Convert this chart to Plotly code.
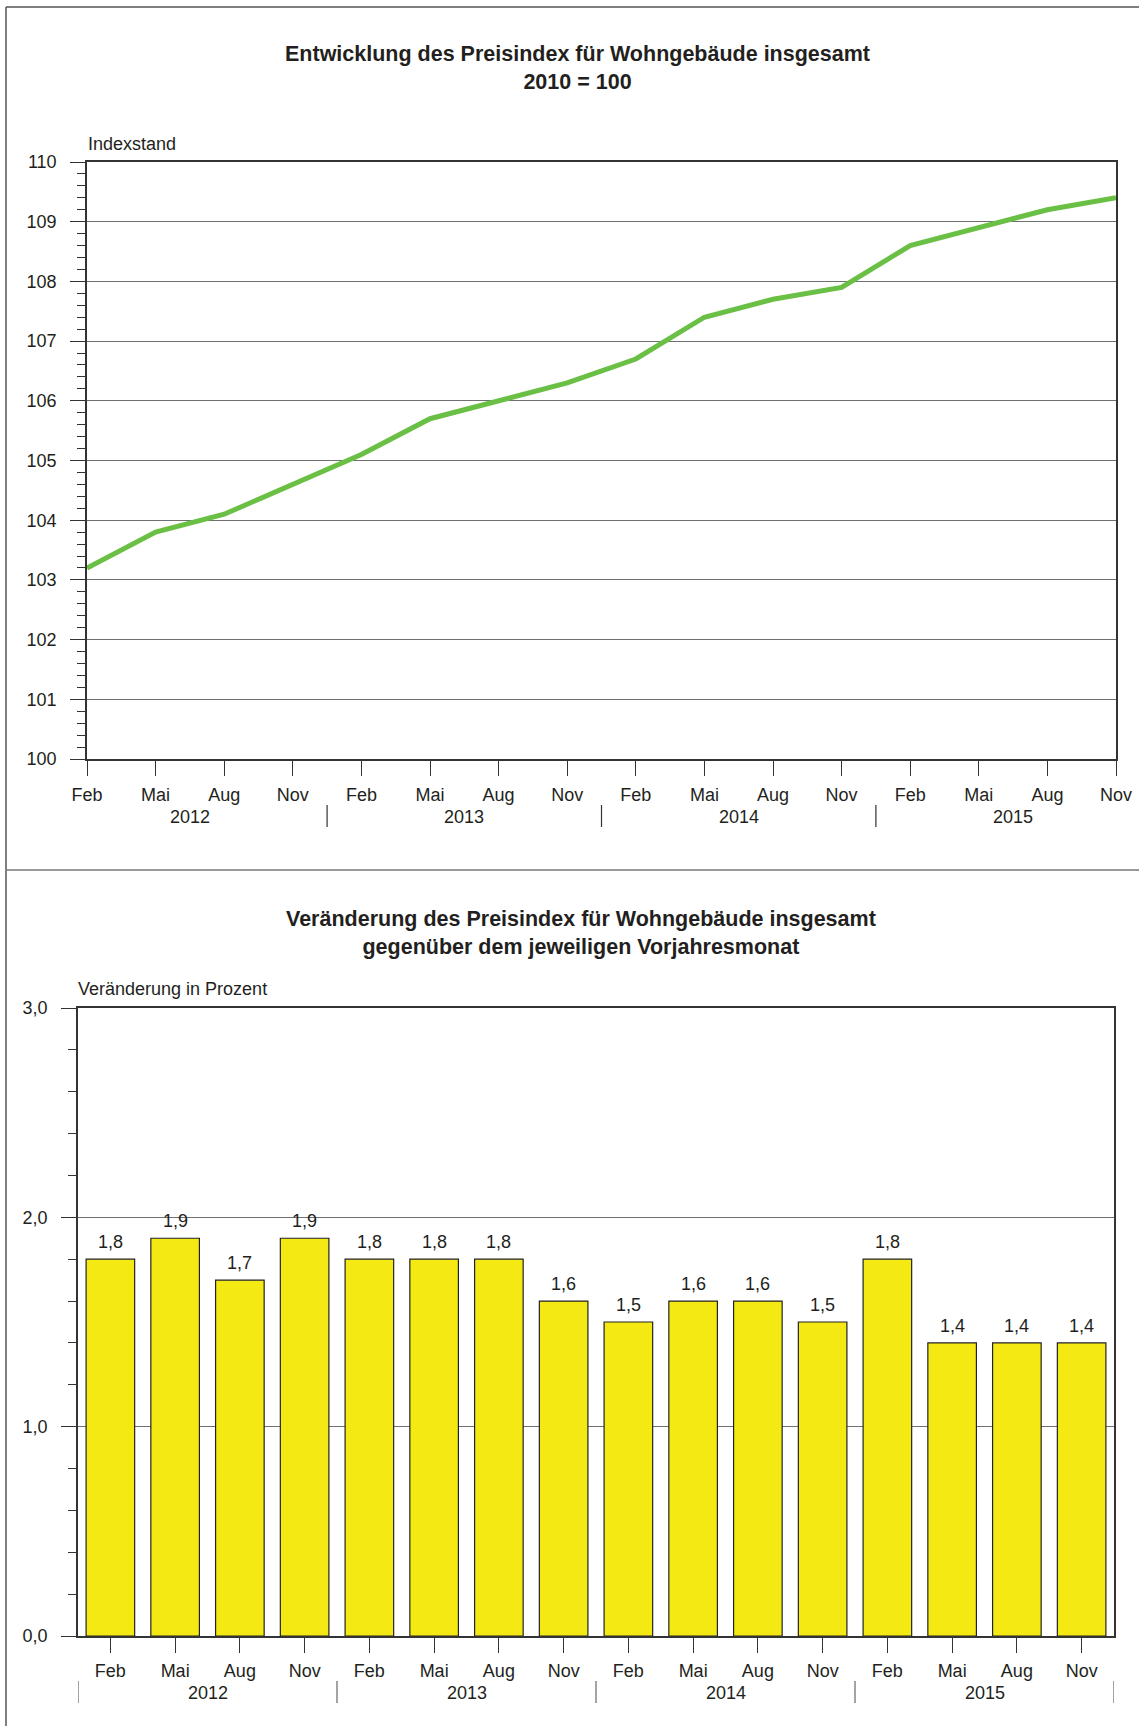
import plotly.graph_objects as go

# ---- data ----
months = ["Feb", "Mai", "Aug", "Nov"] * 4
years = ["2012", "2013", "2014", "2015"]
index_values = [103.2, 103.8, 104.1, 104.6,
                105.1, 105.7, 106.0, 106.3,
                106.7, 107.4, 107.7, 107.9,
                108.6, 108.9, 109.2, 109.4]
change_values = [1.8, 1.9, 1.7, 1.9,
                 1.8, 1.8, 1.8, 1.6,
                 1.5, 1.6, 1.6, 1.5,
                 1.8, 1.4, 1.4, 1.4]

title_top = "Entwicklung des Preisindex für Wohngebäude insgesamt<br>2010 = 100"
title_bottom = "Veränderung des Preisindex für Wohngebäude insgesamt<br>gegenüber dem jeweiligen Vorjahresmonat"
ylabel_top = "Indexstand"
ylabel_bottom = "Veränderung in Prozent"

W, H = 1139, 1726
TXT = "#231f20"
AX = "#333333"
GRID = "#707070"


def px(xpix):
    return xpix / W


def py(ypix):
    return (H - ypix) / H


idx = list(range(len(months)))

fig = go.Figure()

fig.add_trace(go.Scatter(
    x=idx, y=index_values, mode="lines",
    line=dict(color="#6abf45", width=5),
    xaxis="x", yaxis="y", showlegend=False, hoverinfo="skip"))

fig.add_trace(go.Bar(
    x=idx, y=change_values,
    marker=dict(color="#f5e914", line=dict(color="#222222", width=1.2)),
    xaxis="x2", yaxis="y2", showlegend=False, hoverinfo="skip"))

common_axis = dict(showline=True, linecolor=AX, linewidth=1.5, mirror=True,
                   ticks="outside", tickcolor=AX, tickwidth=1.2, ticklen=15,
                   tickfont=dict(size=18, color=TXT), zeroline=False,
                   automargin=False)

fig.update_layout(
    template="none",
    width=W, height=H, autosize=False,
    margin=dict(l=0, r=0, t=0, b=0, pad=0, autoexpand=False),
    paper_bgcolor="white", plot_bgcolor="white",
    font=dict(family="Liberation Sans, Arial, sans-serif", size=18, color=TXT),
    separators=",.",
    bargap=0.25,
    xaxis=dict(domain=[px(87), px(1116)], range=[0, 15], anchor="y",
               tickvals=idx, ticktext=months, showgrid=False,
               ticklabelstandoff=4, **common_axis),
    yaxis=dict(domain=[py(759), py(162)], range=[100, 110], anchor="x",
               tickvals=list(range(100, 111)), showgrid=True, gridcolor=GRID, gridwidth=1,
               ticklabelstandoff=10,
               minor=dict(dtick=0.2, ticks="outside", ticklen=8, tickcolor=AX,
                          tickwidth=1.2, showgrid=False),
               **common_axis),
    xaxis2=dict(domain=[px(78), px(1114)], range=[-0.5, 15.5], anchor="y2",
                tickvals=idx, ticktext=months, showgrid=False,
                ticklabelstandoff=3, **common_axis),
    yaxis2=dict(domain=[py(1636), py(1008)], range=[0, 3], anchor="x2",
                tickvals=[0, 1, 2, 3], tickformat=".1f",
                showgrid=True, gridcolor=GRID, gridwidth=1,
                ticklabelstandoff=10,
                minor=dict(dtick=0.2, ticks="outside", ticklen=8, tickcolor=AX,
                           tickwidth=1.2, showgrid=False),
                **common_axis),
)

annotations = []
# titles
annotations.append(dict(text="<b>" + title_top.replace("<br>", "</b><br><b>") + "</b>",
                        x=px(577), y=py(68), xref="paper", yref="paper",
                        xanchor="center", yanchor="middle", showarrow=False,
                        font=dict(size=21.5, color=TXT)))
annotations.append(dict(text="<b>" + title_bottom.replace("<br>", "</b><br><b>") + "</b>",
                        x=px(581), y=py(933), xref="paper", yref="paper",
                        xanchor="center", yanchor="middle", showarrow=False,
                        font=dict(size=21.5, color=TXT)))
annotations.append(dict(text=ylabel_top, x=px(86), y=py(144), xref="paper", yref="paper",
                        xanchor="left", yanchor="middle", showarrow=False,
                        font=dict(size=18, color=TXT)))
annotations.append(dict(text=ylabel_bottom, x=px(76), y=py(989), xref="paper", yref="paper",
                        xanchor="left", yanchor="middle", showarrow=False,
                        font=dict(size=18, color=TXT)))

shapes = []
# year labels and separators
for k, yr in enumerate(years):
    centre = 4 * k + 1.5
    annotations.append(dict(text=yr, x=centre, y=py(817), xref="x", yref="paper",
                            xanchor="center", yanchor="middle", showarrow=False,
                            font=dict(size=18, color=TXT)))
    annotations.append(dict(text=yr, x=centre, y=py(1693), xref="x2", yref="paper",
                            xanchor="center", yanchor="middle", showarrow=False,
                            font=dict(size=18, color=TXT)))
for k in range(1, len(years)):
    b = 4 * k - 0.5
    shapes.append(dict(type="line", xref="x", yref="paper", x0=b, x1=b,
                       y0=py(827), y1=py(805), line=dict(color=AX, width=1.2)))
for k in range(0, len(years) + 1):
    b = 4 * k - 0.5
    shapes.append(dict(type="line", xref="x2", yref="paper", x0=b, x1=b,
                       y0=py(1703), y1=py(1681), line=dict(color="#666666", width=1.2)))

# bar value labels
for i, v in zip(idx, change_values):
    annotations.append(dict(text=f"{v:.1f}".replace(".", ","), x=i, y=v,
                            xref="x2", yref="y2", xanchor="center", yanchor="bottom",
                            yshift=5, showarrow=False, font=dict(size=18, color=TXT)))

# outer frame lines
BORDER = "#555555"
shapes.append(dict(type="line", xref="paper", yref="paper", x0=px(6), x1=1,
                   y0=py(7), y1=py(7), line=dict(color=BORDER, width=1.5)))
shapes.append(dict(type="line", xref="paper", yref="paper", x0=px(6), x1=px(6),
                   y0=py(7), y1=0, line=dict(color=BORDER, width=1.5)))
shapes.append(dict(type="line", xref="paper", yref="paper", x0=px(6), x1=1,
                   y0=py(870), y1=py(870), line=dict(color="#777777", width=1.5)))

fig.update_layout(annotations=annotations, shapes=shapes)

fig.write_html("out.html",
               config={"displayModeBar": False},
               post_script="document.body.style.margin='0';document.body.style.overflow='hidden';")
